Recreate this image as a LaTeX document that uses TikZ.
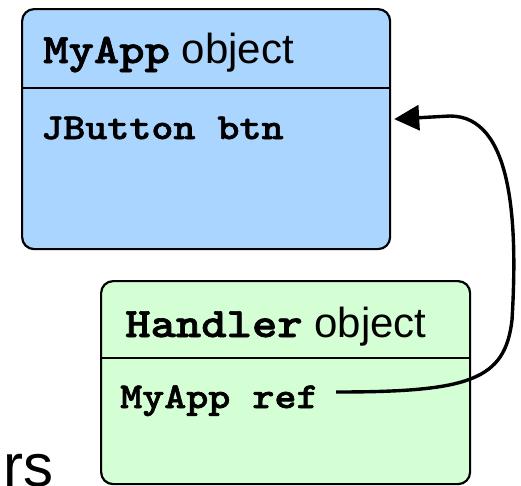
\documentclass[tikz,border=0pt]{standalone}
\usepackage{fontspec}
\setmainfont{Liberation Sans}
% bold slab typewriter face for code identifiers
\newfontfamily\codefont{lmmonolt10-bold}[Extension=.otf, FakeStretch=1.15, FakeBold=1.6]
\usetikzlibrary{arrows.meta}
\definecolor{appblue}{RGB}{170,213,255}
\definecolor{handlergreen}{RGB}{212,255,212}

\begin{document}
\begin{tikzpicture}[x=1pt,y=-1pt,
  objbox/.style={draw=black, line width=2.2pt, rounded corners=12pt,
                 anchor=north west, inner sep=0pt},
  divider/.style={line width=1.6pt},
  title/.style={anchor=base west, inner sep=0pt,
                font=\fontsize{42}{42}\selectfont},
  field/.style={anchor=base west, inner sep=0pt,
                font=\fontsize{36.5}{36.5}\selectfont\codefont},
  refline/.style={line width=3.4pt, -{Triangle[length=25pt,width=25pt]}}
]
\useasboundingbox (0,0) rectangle (521,485);

% MyApp object
\node[objbox, fill=appblue, minimum width=368pt, minimum height=240pt]
  (myapp) at (21,8) {};
\draw[divider] (myapp.west |- 0,88) -- (myapp.east |- 0,88);
\node[title] (myapptitle) at (43,63)
  {{\fontsize{42}{42}\selectfont\codefont MyApp} object};
\node[field] (btn) at (41,139) {JButton btn};

% Handler object
\node[objbox, fill=handlergreen, minimum width=369pt, minimum height=203pt]
  (handler) at (100,280) {};
\draw[divider] (handler.west |- 0,358) -- (handler.east |- 0,358);
\node[title] (handlertitle) at (125,337)
  {{\fontsize{42}{42}\selectfont\codefont Handler} object};
\node[field] (reftext) at (120,408) {MyApp ref};

% partial caption text at the lower left
\node[anchor=base east, inner sep=0pt, font=\fontsize{60}{60}\selectfont]
  (caption) at (54,486) {rs};

% reference from Handler.ref back to the MyApp object
\coordinate (refout) at (336,392);
\draw[refline] (refout)
  .. controls (470,392) and (505,380) .. (512,320)
  .. controls (518,220) and (512,116) .. (450,116)
  -- ([xshift=3pt,yshift=10pt]myapp.east);
\end{tikzpicture}
\end{document}
